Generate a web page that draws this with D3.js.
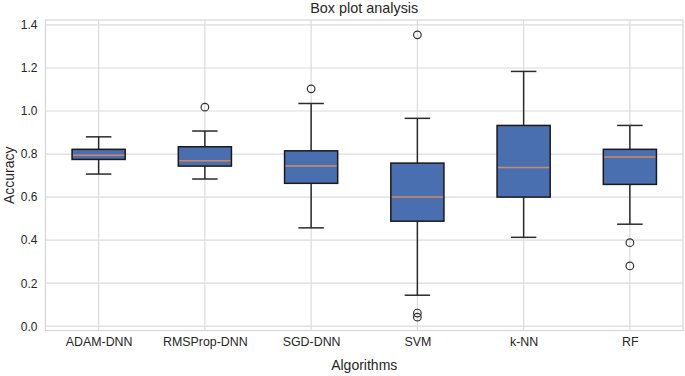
<!DOCTYPE html>
<html>
<head>
<meta charset="utf-8">
<script src="https://cdn.jsdelivr.net/npm/d3@7/dist/d3.min.js"></script>
<style>
  html, body { margin: 0; padding: 0; background: #fff; }
  svg { display: block; font-family: "Liberation Sans", Arial, sans-serif; }
</style>
</head>
<body>
<div id="chart"></div>
<script>
// 数据
const categories = ['ADAM-DNN', 'RMSProp-DNN', 'SGD-DNN', 'SVM', 'k-NN', 'RF'];
const whiskerLow  = [0.707, 0.684, 0.457, 0.144, 0.413, 0.474];
const q1          = [0.775, 0.744, 0.664, 0.488, 0.600, 0.659];
const median      = [0.795, 0.769, 0.744, 0.600, 0.738, 0.786];
const q3          = [0.822, 0.834, 0.815, 0.758, 0.933, 0.822];
const whiskerHigh = [0.880, 0.907, 1.035, 0.966, 1.184, 0.933];
const outliers    = [[], [1.018], [1.103], [1.354, 0.061, 0.042], [], [0.388, 0.280]];
const yTicks = [0.0, 0.2, 0.4, 0.6, 0.8, 1.0, 1.2, 1.4];

const width = 685, height = 376;
const plot = { left: 45.5, right: 683, top: 20, bottom: 330.5 };

const svg = d3.select('#chart').append('svg')
  .attr('width', width)
  .attr('height', height);

// 比例尺
const x = d3.scaleLinear().domain([0.5, categories.length + 0.5]).range([plot.left, plot.right]);
const y = d3.scaleLinear().domain([-0.02, 1.423]).range([plot.bottom, plot.top]);

// 网格线
const grid = svg.append('g');
grid.selectAll('line.h')
  .data(yTicks)
  .enter().append('line')
  .attr('x1', plot.left).attr('x2', plot.right)
  .attr('y1', d => y(d)).attr('y2', d => y(d))
  .attr('stroke', '#dcdcdc').attr('stroke-width', 1.2);
grid.selectAll('line.v')
  .data(categories)
  .enter().append('line')
  .attr('x1', (d, i) => x(i + 1)).attr('x2', (d, i) => x(i + 1))
  .attr('y1', plot.top).attr('y2', plot.bottom)
  .attr('stroke', '#dcdcdc').attr('stroke-width', 1.2);

// 边框
svg.append('rect')
  .attr('x', plot.left).attr('y', plot.top)
  .attr('width', plot.right - plot.left).attr('height', plot.bottom - plot.top)
  .attr('fill', 'none').attr('stroke', '#d6d6d6').attr('stroke-width', 1.2);

// 坐标轴
const yAxis = svg.append('g')
  .attr('transform', `translate(${plot.left},0)`)
  .call(d3.axisLeft(y).tickValues(yTicks).tickFormat(d3.format('.1f')).tickSize(0).tickPadding(8));
yAxis.select('.domain').remove();
yAxis.selectAll('text').attr('font-size', 12).attr('fill', '#262626')
  .attr('font-family', '"Liberation Sans", Arial, sans-serif');

const xAxis = svg.append('g')
  .attr('transform', `translate(0,${plot.bottom})`)
  .call(d3.axisBottom(x).tickValues(d3.range(1, categories.length + 1))
    .tickFormat(i => categories[i - 1]).tickSize(0).tickPadding(7));
xAxis.select('.domain').remove();
xAxis.selectAll('text').attr('font-size', 12.4).attr('fill', '#262626')
  .attr('font-family', '"Liberation Sans", Arial, sans-serif');

// 箱线图
const boxW = 0.5, capW = 0.24;
const boxes = svg.append('g').selectAll('g')
  .data(categories)
  .enter().append('g');

boxes.append('line')
  .attr('x1', (d, i) => x(i + 1)).attr('x2', (d, i) => x(i + 1))
  .attr('y1', (d, i) => y(whiskerLow[i])).attr('y2', (d, i) => y(q1[i]))
  .attr('stroke', '#2a2a2a').attr('stroke-width', 1.5);
boxes.append('line')
  .attr('x1', (d, i) => x(i + 1)).attr('x2', (d, i) => x(i + 1))
  .attr('y1', (d, i) => y(whiskerHigh[i])).attr('y2', (d, i) => y(q3[i]))
  .attr('stroke', '#2a2a2a').attr('stroke-width', 1.5);
[whiskerLow, whiskerHigh].forEach(arr => {
  boxes.append('line')
    .attr('x1', (d, i) => x(i + 1 - capW / 2)).attr('x2', (d, i) => x(i + 1 + capW / 2))
    .attr('y1', (d, i) => y(arr[i])).attr('y2', (d, i) => y(arr[i]))
    .attr('stroke', '#2a2a2a').attr('stroke-width', 1.5);
});
boxes.append('rect')
  .attr('x', (d, i) => x(i + 1 - boxW / 2))
  .attr('width', x(1 + boxW / 2) - x(1 - boxW / 2))
  .attr('y', (d, i) => y(q3[i]))
  .attr('height', (d, i) => y(q1[i]) - y(q3[i]))
  .attr('fill', '#4a6fb0').attr('stroke', '#1a1a1a').attr('stroke-width', 1.5);
boxes.append('line')
  .attr('x1', (d, i) => x(i + 1 - boxW / 2) + 1).attr('x2', (d, i) => x(i + 1 + boxW / 2) - 1)
  .attr('y1', (d, i) => y(median[i])).attr('y2', (d, i) => y(median[i]))
  .attr('stroke', '#d4895c').attr('stroke-width', 1.5);

// 离群点
const flat = [];
outliers.forEach((arr, i) => arr.forEach(v => flat.push({ i, v })));
svg.append('g').selectAll('circle')
  .data(flat)
  .enter().append('circle')
  .attr('cx', d => x(d.i + 1)).attr('cy', d => y(d.v))
  .attr('r', 3.8)
  .attr('fill', 'none').attr('stroke', '#333').attr('stroke-width', 1.2);

// 标题与轴标签
svg.append('text')
  .attr('x', (plot.left + plot.right) / 2).attr('y', 13)
  .attr('text-anchor', 'middle').attr('font-size', 14.4).attr('fill', '#262626')
  .text('Box plot analysis');
svg.append('text')
  .attr('x', (plot.left + plot.right) / 2).attr('y', 370)
  .attr('text-anchor', 'middle').attr('font-size', 14).attr('fill', '#262626')
  .text('Algorithms');
svg.append('text')
  .attr('transform', `translate(14,${(plot.top + plot.bottom) / 2}) rotate(-90)`)
  .attr('text-anchor', 'middle').attr('font-size', 14).attr('fill', '#262626')
  .text('Accuracy');
</script>
</body>
</html>
